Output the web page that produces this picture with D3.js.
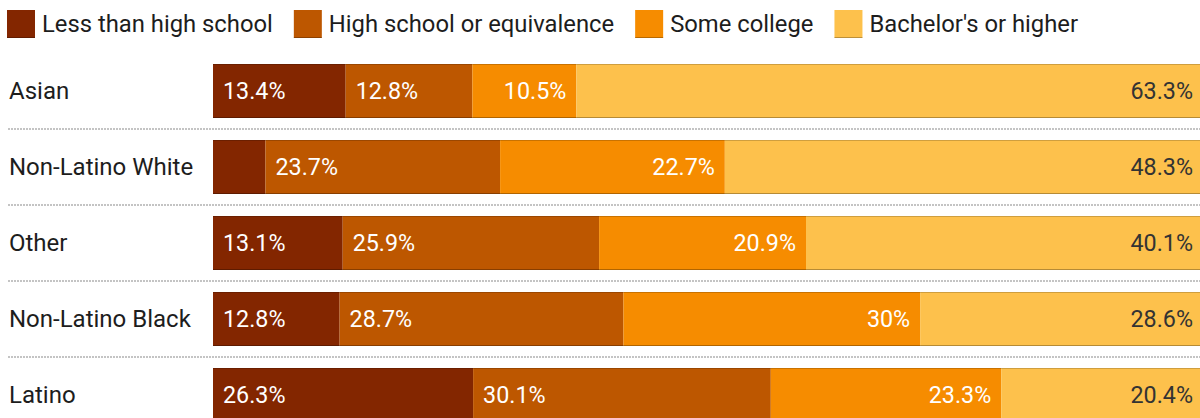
<!DOCTYPE html>
<html>
<head>
<meta charset="utf-8">
<script src="https://cdn.jsdelivr.net/npm/d3@7"></script>
<style>
  html, body { margin: 0; padding: 0; background: #fff; overflow: hidden; }
  svg { display: block; font-family: Roboto, "Noto Sans", sans-serif; }
</style>
</head>
<body>
<svg id="chart" width="1200" height="418"></svg>
<script>
// Educational attainment by race / ethnicity (share of adults, %)
const groups = ["Asian", "Non-Latino White", "Other", "Non-Latino Black", "Latino"];
const levels = ["Less than high school", "High school or equivalence", "Some college", "Bachelor's or higher"];
const lessThanHS   = [13.4, 5.3, 13.1, 12.8, 26.3];
const highSchool   = [12.8, 23.7, 25.9, 28.7, 30.1];
const someCollege  = [10.5, 22.7, 20.9, 30.0, 23.3];
const bachelors    = [63.3, 48.3, 40.1, 28.6, 20.4];
const colors = ["#832600", "#bd5700", "#f68c00", "#fdc14c"];

const seriesValues = [lessThanHS, highSchool, someCollege, bachelors];
const rows = groups.map((g, i) => {
  const r = { group: g };
  levels.forEach((l, k) => { r[l] = seriesValues[k][i]; });
  return r;
});

const svg = d3.select("#chart");
const width = 1200;
// bars run slightly past the right edge of the frame
const barLeft = 213, barRight = 1203;

const x = d3.scaleLinear().domain([0, 1]).range([barLeft, barRight]);
const y = d3.scaleBand().domain(groups).range([53, 433])
  .paddingInner(22 / 76).paddingOuter(11 / 76);
const color = d3.scaleOrdinal().domain(levels).range(colors);

const stack = d3.stack().keys(levels).offset(d3.stackOffsetExpand);
const stacked = stack(rows);

// Legend
const legend = svg.append("g").attr("class", "legend");
let lx = 7;
levels.forEach(l => {
  const g = legend.append("g").attr("transform", `translate(${lx},10)`);
  g.append("rect").attr("width", 28).attr("height", 28).attr("fill", color(l));
  g.append("line").attr("x1", 0).attr("x2", 28).attr("y1", 27.5).attr("y2", 27.5)
    .attr("stroke", "#000").attr("stroke-opacity", 0.25);
  const t = g.append("text").attr("x", 35).attr("y", 14).attr("dy", "0.35em")
    .attr("font-size", 23.8).attr("fill", "#1d1d1d").text(l);
  lx += 35 + t.node().getComputedTextLength() + 21;
});

// Dotted separators between rows
groups.slice(1).forEach(g => {
  const yy = y(g) - (y.step() - y.bandwidth()) / 2;
  svg.append("line").attr("x1", 8).attr("x2", width)
    .attr("y1", yy).attr("y2", yy)
    .attr("stroke", "#c4c4c4").attr("stroke-width", 2)
    .attr("stroke-dasharray", "2,1");
});

// Row labels
svg.append("g").selectAll("text").data(groups).join("text")
  .attr("x", 9).attr("y", d => y(d) + y.bandwidth() / 2).attr("dy", "0.35em")
  .attr("font-size", 24).attr("fill", "#1d1d1d").text(d => d);

// Bar segments
const layers = svg.append("g").selectAll("g").data(stacked).join("g")
  .attr("fill", d => color(d.key));
layers.selectAll("rect").data(d => d).join("rect")
  .attr("x", d => x(d[0]))
  .attr("width", d => x(d[1]) - x(d[0]))
  .attr("y", d => y(d.data.group))
  .attr("height", y.bandwidth());

// Thin edge lines above and below each bar
groups.forEach(g => {
  svg.append("line").attr("x1", barLeft).attr("x2", barRight)
    .attr("y1", y(g) + 0.5).attr("y2", y(g) + 0.5)
    .attr("stroke", "#000").attr("stroke-opacity", 0.18);
  svg.append("line").attr("x1", barLeft).attr("x2", barRight)
    .attr("y1", y(g) + y.bandwidth() - 0.5).attr("y2", y(g) + y.bandwidth() - 0.5)
    .attr("stroke", "#000").attr("stroke-opacity", 0.28);
});

// Value labels: first two segments left-aligned, last two right-aligned
stacked.forEach((layer, k) => {
  const rightAligned = k >= 2;
  svg.append("g").selectAll("text").data(layer).join("text")
    .filter(d => x(d[1]) - x(d[0]) > 70)
    .attr("x", d => rightAligned ? x(d[1]) - 10 : x(d[0]) + 10)
    .attr("y", d => y(d.data.group) + y.bandwidth() / 2)
    .attr("dy", "0.35em")
    .attr("text-anchor", rightAligned ? "end" : "start")
    .attr("font-size", 23.3)
    .attr("fill", k === 3 ? "#333" : "#fff")
    .text(d => d3.format("~")(d.data[layer.key]) + "%");
});
</script>
</body>
</html>
